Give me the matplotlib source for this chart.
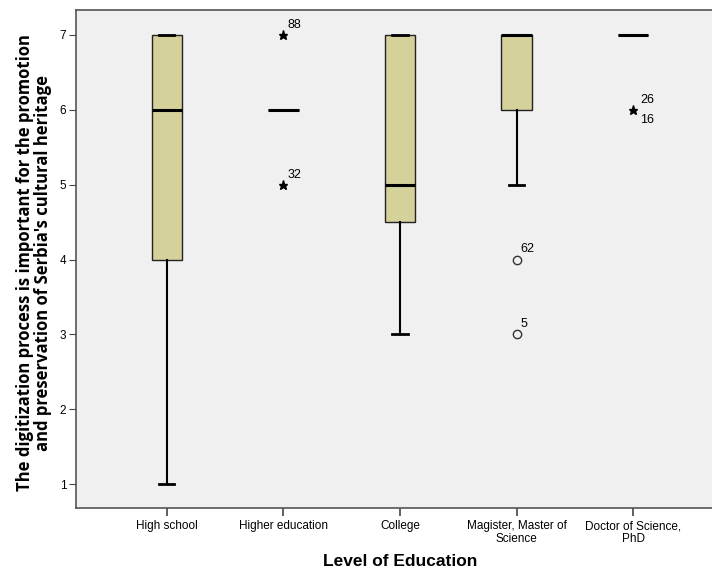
import matplotlib

matplotlib.use("Agg")
import matplotlib.pyplot as plt

# Level of education categories and box statistics (Likert 1-7)
categories = ["High school", "Higher education", "College",
              "Magister, Master of\nScience", "Doctor of Science,\nPhD"]
q1 = [4.0, 6.0, 4.5, 6.0, 7.0]
med = [6.0, 6.0, 5.0, 7.0, 7.0]
q3 = [7.0, 6.0, 7.0, 7.0, 7.0]
whislo = [1.0, 6.0, 3.0, 5.0, 7.0]
whishi = [7.0, 6.0, 7.0, 7.0, 7.0]

# outliers: (category index, value, kind, label)
outlier_cat = [1, 1, 3, 3, 4]
outlier_val = [7.0, 5.0, 4.0, 3.0, 6.0]
outlier_kind = ["extreme", "extreme", "outlier", "outlier", "extreme"]
outlier_lab = ["88", "32", "62", "5", "26\n16"]

plt.rcParams["font.family"] = ["Liberation Sans", "DejaVu Sans"]

W, H = 712, 571
fig = plt.figure(figsize=(W / 100, H / 100), dpi=100)
ax = fig.add_axes([76 / W, 1 - 508 / H, 648 / W, 498 / H])
ax.set_facecolor("#f0f0f0")

stats = []
for i in range(len(categories)):
    stats.append({"q1": q1[i], "med": med[i], "q3": q3[i],
                  "whislo": whislo[i], "whishi": whishi[i], "fliers": []})

pos = list(range(len(categories)))
ax.bxp(stats, positions=pos, widths=0.26, patch_artist=True, showfliers=False,
       boxprops=dict(facecolor="#d5d19b", edgecolor="#222222", linewidth=1.0),
       medianprops=dict(color="black", linewidth=2.2),
       whiskerprops=dict(color="black", linewidth=1.5),
       capprops=dict(color="black", linewidth=2.0),
       capwidths=0.13)

for c, v, k, lab in zip(outlier_cat, outlier_val, outlier_kind, outlier_lab):
    if k == "extreme":
        ax.plot(c, v, marker="*", color="black", markersize=6.5, linestyle="none")
    else:
        ax.plot(c, v, marker="o", markerfacecolor="none", markeredgecolor="#333333",
                markersize=6, markeredgewidth=1.0, linestyle="none")
    if "\n" in lab:
        top, bot = lab.split("\n")
        ax.annotate(top, (c, v), xytext=(5, 3), textcoords="offset points",
                    fontsize=9, va="bottom", ha="left")
        ax.annotate(bot, (c, v), xytext=(5, -3), textcoords="offset points",
                    fontsize=9, va="top", ha="left")
    else:
        ax.annotate(lab, (c, v), xytext=(3, 3), textcoords="offset points",
                    fontsize=9, va="bottom", ha="left")

ax.set_xlim(-0.78, 4.78)
ax.set_ylim(0.68, 7.334)
ax.set_yticks([1, 2, 3, 4, 5, 6, 7])
ax.set_xticks(pos)
ax.set_xticklabels(categories, fontsize=8.5, linespacing=1.0)
ax.tick_params(axis="y", labelsize=8.5, length=5, color="#444444", pad=2)
ax.tick_params(axis="x", length=6, width=1.2, color="#444444", pad=3)
for sp in ax.spines.values():
    sp.set_color("#555555")
    sp.set_linewidth(1.2)

ax.set_xlabel("Level of Education", fontsize=12.5, fontweight="bold")
ax.xaxis.set_label_coords(0.5, -0.092)
ax.set_ylabel("The digitization process is important for the promotion\n"
              "and preservation of Serbia's cultural heritage",
              fontsize=12, fontweight="bold", family=["Open Sans", "DejaVu Sans"],
              linespacing=1.05)
ax.yaxis.label.set_va("center")
ax.yaxis.set_label_coords(-0.065, 0.492)

fig.savefig("out.png", dpi=100, facecolor="white")
